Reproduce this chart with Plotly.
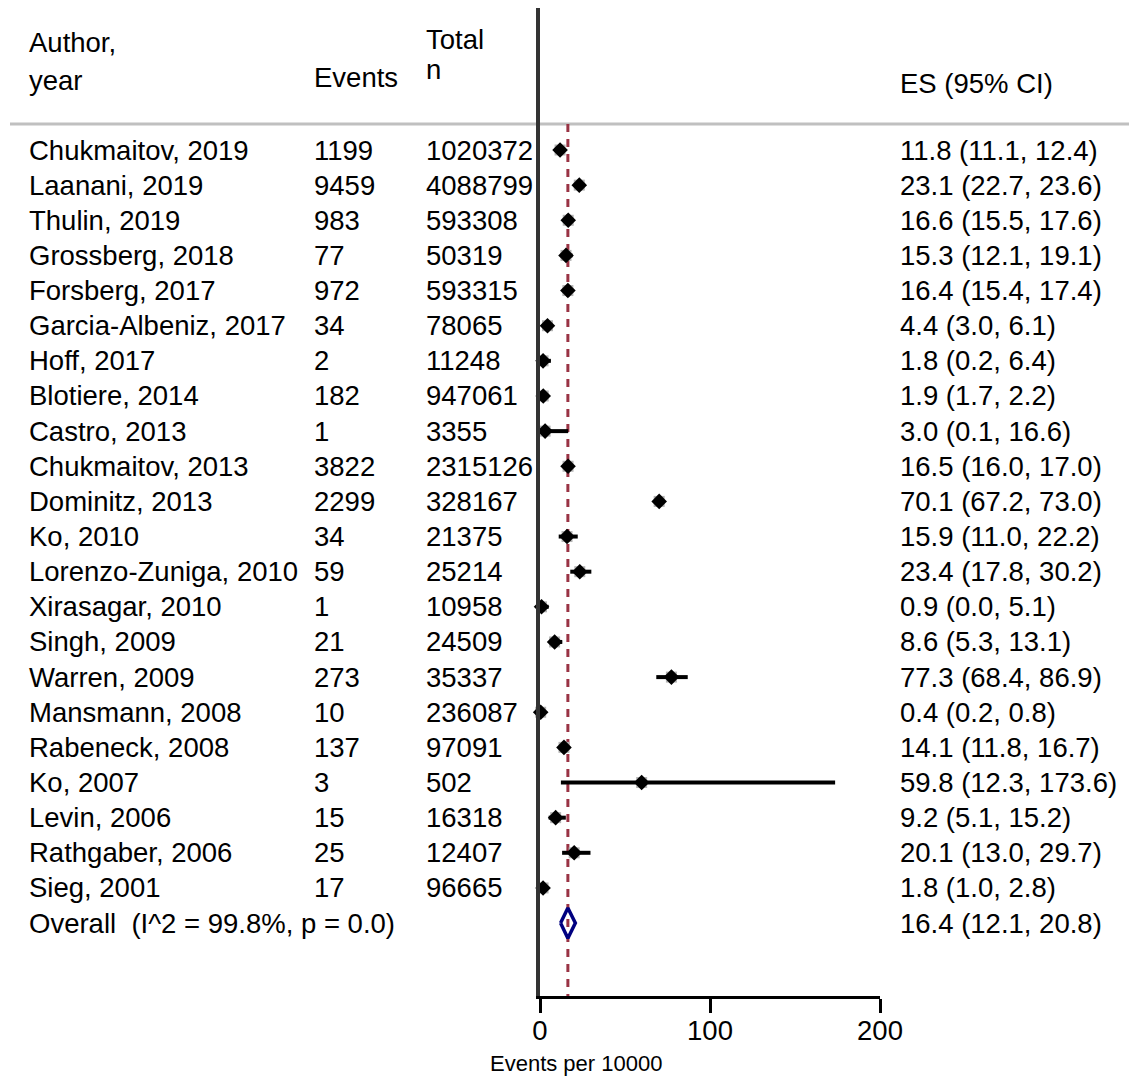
import plotly.graph_objects as go

# ---------------- data ----------------
authors = ["Chukmaitov, 2019", "Laanani, 2019", "Thulin, 2019", "Grossberg, 2018",
           "Forsberg, 2017", "Garcia-Albeniz, 2017", "Hoff, 2017", "Blotiere, 2014",
           "Castro, 2013", "Chukmaitov, 2013", "Dominitz, 2013", "Ko, 2010",
           "Lorenzo-Zuniga, 2010", "Xirasagar, 2010", "Singh, 2009", "Warren, 2009",
           "Mansmann, 2008", "Rabeneck, 2008", "Ko, 2007", "Levin, 2006",
           "Rathgaber, 2006", "Sieg, 2001"]
events = [1199, 9459, 983, 77, 972, 34, 2, 182, 1, 3822, 2299, 34, 59, 1, 21, 273,
          10, 137, 3, 15, 25, 17]
totals = [1020372, 4088799, 593308, 50319, 593315, 78065, 11248, 947061, 3355,
          2315126, 328167, 21375, 25214, 10958, 24509, 35337, 236087, 97091, 502,
          16318, 12407, 96665]
es = [11.8, 23.1, 16.6, 15.3, 16.4, 4.4, 1.8, 1.9, 3.0, 16.5, 70.1, 15.9, 23.4, 0.9,
      8.6, 77.3, 0.4, 14.1, 59.8, 9.2, 20.1, 1.8]
ci_lo = [11.1, 22.7, 15.5, 12.1, 15.4, 3.0, 0.2, 1.7, 0.1, 16.0, 67.2, 11.0, 17.8, 0.0,
         5.3, 68.4, 0.2, 11.8, 12.3, 5.1, 13.0, 1.0]
ci_hi = [12.4, 23.6, 17.6, 19.1, 17.4, 6.1, 6.4, 2.2, 16.6, 17.0, 73.0, 22.2, 30.2, 5.1,
         13.1, 86.9, 0.8, 16.7, 173.6, 15.2, 29.7, 2.8]
overall_label = "Overall\u00a0\u00a0(I^2 = 99.8%, p = 0.0)"
overall_es, overall_lo, overall_hi = 16.4, 12.1, 20.8
x_ticks = [0, 100, 200]
x_title = "Events per 10000"

# ---------------- layout helpers ----------------
OFF = 8  # page body margin
W, H = 1137 - OFF, 1078 - OFF
L, R, T, B = 540 - OFF, 257, 8 - OFF, 82
PW, PH = W - L - R, H - T - B
FONT = "Liberation Sans, Arial, sans-serif"
FS = 27.5


def px_x(p):
    return (p - OFF - L) / PW


def px_y(p):
    return 1 - (p - OFF - T) / PH


n = len(authors)
rows = list(range(n))
overall_row = n

fig = go.Figure()

# CI lines
for i in rows:
    fig.add_trace(go.Scatter(x=[ci_lo[i], ci_hi[i]], y=[i, i], mode="lines",
                             line=dict(color="black", width=4),
                             cliponaxis=False, showlegend=False, hoverinfo="skip"))

# weight boxes (grey) and point estimates (black diamonds)
fig.add_trace(go.Scatter(x=es, y=rows, mode="markers",
                         marker=dict(symbol="square", size=11, color="#b4b4b4"),
                         cliponaxis=False, showlegend=False))
fig.add_trace(go.Scatter(x=es, y=rows, mode="markers",
                         marker=dict(symbol="diamond", size=12, color="black"),
                         cliponaxis=False, showlegend=False))

# overall diamond
hh = 0.43
fig.add_trace(go.Scatter(
    x=[overall_lo, overall_es, overall_hi, overall_es, overall_lo],
    y=[overall_row, overall_row - hh, overall_row, overall_row + hh, overall_row],
    mode="lines", line=dict(color="#000080", width=3.5),
    cliponaxis=False, showlegend=False))

ann = []


def txt(x, y, s, yref="y", size=FS, xanchor="left"):
    ann.append(dict(x=x, y=y, xref="paper", yref=yref, text=s, showarrow=False,
                    xanchor=xanchor, yanchor="middle",
                    font=dict(family=FONT, size=size, color="black")))


# header
txt(px_x(27), px_y(42), "Author,", yref="paper")
txt(px_x(27), px_y(80), "year", yref="paper")
txt(px_x(312), px_y(77), "Events", yref="paper")
txt(px_x(424), px_y(40), "Total", yref="paper")
txt(px_x(424), px_y(70), "n", yref="paper")
txt(px_x(898), px_y(83), "ES (95% CI)", yref="paper")

# rows
for i in rows:
    txt(px_x(27), i, authors[i])
    txt(px_x(312), i, str(events[i]))
    txt(px_x(424), i, str(totals[i]))
    txt(px_x(898), i, f"{es[i]:.1f} ({ci_lo[i]:.1f}, {ci_hi[i]:.1f})")

txt(px_x(27), overall_row, overall_label)
txt(px_x(898), overall_row, f"{overall_es:.1f} ({overall_lo:.1f}, {overall_hi:.1f})")

# axis title
txt(px_x(576), px_y(1063), x_title, yref="paper", size=22, xanchor="center")

shapes = [
    # header rule
    dict(type="line", xref="paper", yref="paper", x0=px_x(10), x1=px_x(1137),
         y0=px_y(124), y1=px_y(124), line=dict(color="#c0c0c0", width=3), layer="below"),
    # overall dashed line
    dict(type="line", xref="x", yref="paper", x0=overall_es, x1=overall_es,
         y0=px_y(124), y1=0, line=dict(color="#993344", width=3, dash="8px,7px"),
         layer="below"),
]

row_px = 35.14
y0 = -(150 - 8) / row_px
y1 = y0 + PH / row_px

fig.update_layout(
    width=W, height=H, autosize=False,
    margin=dict(l=L, r=R, t=T, b=B, pad=0),
    paper_bgcolor="white", plot_bgcolor="white",
    annotations=ann, shapes=shapes, showlegend=False,
    font=dict(family=FONT, size=FS, color="black"),
    xaxis=dict(range=[0, 200], tickvals=x_ticks, ticktext=[str(v) for v in x_ticks],
               showgrid=False, zeroline=False, showline=True, linecolor="black",
               linewidth=3, ticks="outside", ticklen=14, tickwidth=3, tickcolor="black",
               ticklabelstandoff=-6,
               tickfont=dict(family=FONT, size=FS, color="black")),
    yaxis=dict(range=[y1, y0], showgrid=False, zeroline=False, showline=True,
               linecolor="#333333", linewidth=3.5, showticklabels=False, ticks=""),
)

fig.write_html("out.html")
